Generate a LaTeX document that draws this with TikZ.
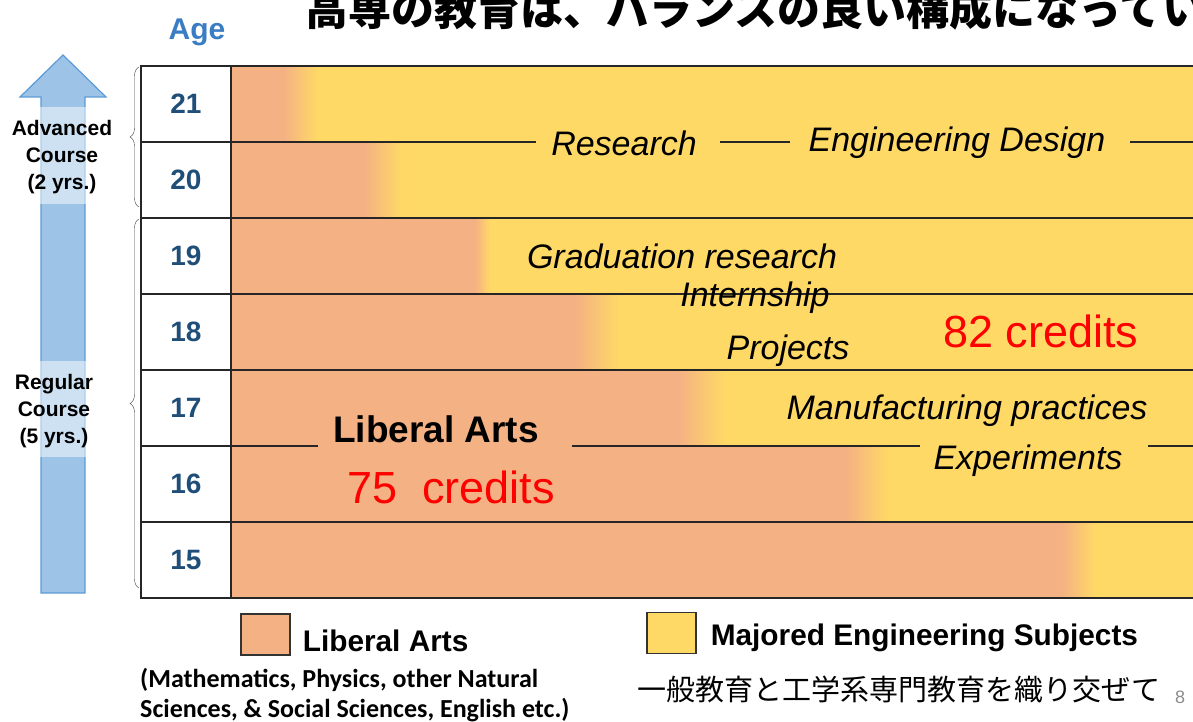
\documentclass[tikz,border=0pt]{standalone}
\usepackage{fontspec}
\setmainfont{Liberation Sans}
\newfontfamily\cjk{Noto Sans CJK JP}
\newfontfamily\calib{Carlito}
\usepackage{tikz}
\usetikzlibrary{decorations.pathreplacing,positioning}

\definecolor{laorange}{HTML}{F4B183}
\definecolor{engyellow}{HTML}{FFD966}
\definecolor{numblue}{HTML}{1F4E79}
\definecolor{ageblue}{HTML}{3A7DC4}
\definecolor{arrowfill}{HTML}{9DC3E6}
\definecolor{arrowedge}{HTML}{5B9BD5}

\tikzset{
  agenum/.style={font=\bfseries\fontsize{28}{28}\selectfont, text=numblue},
  course/.style={font=\bfseries\fontsize{21}{27}\selectfont, align=center},
  subj/.style={font=\itshape\fontsize{34}{34}\selectfont, inner sep=0pt},
  credit/.style={font=\fontsize{45}{45}\selectfont, text=red, inner sep=0pt},
  rowline/.style={line width=1.5pt, draw=black!85},
  keybox/.style={draw=black!80, line width=1.2pt, minimum width=49pt, minimum height=41pt, inner sep=0pt},
  keytext/.style={font=\bfseries\fontsize{29.8}{30}\selectfont, inner sep=0pt},
}

\begin{document}
\begin{tikzpicture}[x=1pt,y=-1pt]
\useasboundingbox (0,0) rectangle (1193,722);

% title and heading
\node[anchor=base west, inner sep=0pt, font=\cjk\bfseries\fontsize{43}{43}\selectfont] (title) at (305,26) {高専の教育は、バランスの良い構成になってい};
\node[anchor=base, font=\bfseries\fontsize{30}{30}\selectfont, text=ageblue] (agehead) at (197,40) {Age};

% age arrow
\filldraw[fill=arrowfill, draw=arrowedge, line width=1.2pt] (20,97) -- (63,55) -- (106,97) -- (85,97) -- (85,593) -- (41,593) -- (41,97) -- cycle;
\fill[white, opacity=0.5] (40,107) rectangle (86,204);
\fill[white, opacity=0.5] (40,361) rectangle (86,457);
\node[course] (advanced) at (62,157) {Advanced\\Course\\(2 yrs.)};
\node[course] (regular) at (54,411) {Regular\\Course\\(5 yrs.)};

% braces
\draw[black!75, decorate, decoration={brace,amplitude=9pt}] (139,207) -- (139,67);
\draw[black!75, decorate, decoration={brace,amplitude=9pt}] (139,588) -- (139,219);

% coloured bands, one per year
\foreach \rowy/\ca/\cb in {66/283/318, 142/364/402, 218/475/490, 294/575/620, 370/678/725, 446/846/889, 522/1061/1096} {
  \fill[laorange] (231,\rowy) rectangle (\ca,\rowy+76);
  \shade[left color=laorange, right color=engyellow] (\ca,\rowy) rectangle (\cb,\rowy+76);
  \fill[engyellow] (\cb,\rowy) rectangle (1193,\rowy+76);
}

% ages
\foreach \age [count=\i] in {21,20,...,15}
  \node[agenum] (age\age) at (186,28+76*\i) {\age};

% table rules
\foreach \rowy in {218,294,370,522}
  \draw[rowline] (141,\rowy) -- (1193,\rowy);
\draw[rowline] (141,142) -- (231,142);
\draw[rowline] (141,446) -- (231,446);
\draw[rowline] (231,66) -- (231,598);
\draw[line width=2pt, black!85] (1193,66) -- (141,66) -- (141,598) -- (1193,598);

% subjects
\node[subj] (research) at (624,143) {Research};
\node[subj] (engdesign) at (957,143) {Engineering Design};
\draw[rowline] (231,142) -- (536,142);
\draw[rowline] (720,142) -- (790,142);
\draw[rowline] (1130,142) -- (1193,142);

\node[subj] (gradres) at (682,256) {Graduation research};
\node[subj] (intern) at (755,298) {Internship};
\node[subj] (projects) at (788,351) {Projects};
\node[credit] (cred82) at (1041,331) {82 credits};
\node[subj] (manuf) at (967,411) {Manufacturing practices};
\node[subj] (exper) at (1028,461) {Experiments};

\node[font=\bfseries\fontsize{37}{37}\selectfont, inner sep=0pt] (libarts) at (436,429) {Liberal Arts};
\node[credit] (cred75) at (451,487) {75~~credits};
\draw[rowline] (231,446) -- (318,446);
\draw[rowline] (572,446) -- (920,446);
\draw[rowline] (1148,446) -- (1193,446);

% legend
\node[keybox, fill=laorange] (keyla) at (265.5,634.5) {};
\node[keytext, anchor=west, right=12pt of keyla, yshift=-6pt] (keylatext) {Liberal Arts};
\node[keybox, fill=engyellow] (keyeng) at (671.5,633) {};
\node[keytext, anchor=west, right=14pt of keyeng, yshift=-5pt] (keyengtext) {Majored Engineering Subjects};

\node[anchor=west, align=left, inner sep=0pt, font=\calib\bfseries\fontsize{26}{30}\selectfont] (lanote) at (140,695) {(Mathematics, Physics, other Natural\\Sciences, \& Social Sciences, English etc.)};
\node[font=\cjk\fontsize{29}{29}\selectfont, inner sep=0pt] (mixnote) at (899,690) {一般教育と工学系専門教育を織り交ぜて};
\node[font=\fontsize{18}{18}\selectfont, text=black!45] (pagenum) at (1180,697) {8};

\end{tikzpicture}
\end{document}
